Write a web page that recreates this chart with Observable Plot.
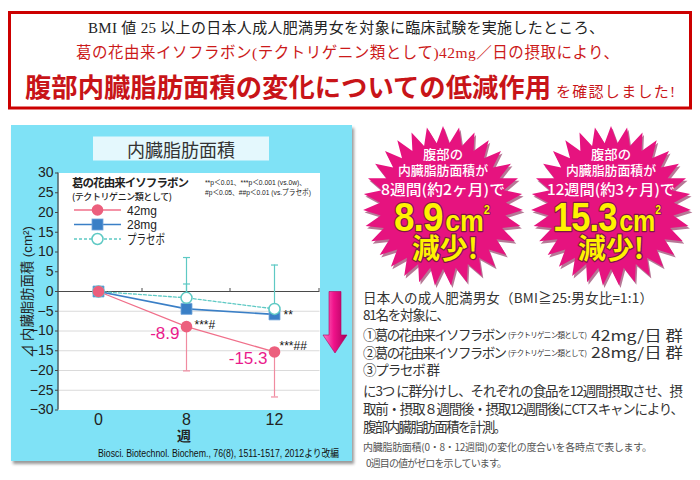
<!DOCTYPE html>
<html><head><meta charset="utf-8">
<script src="https://cdn.jsdelivr.net/npm/d3@7"></script>
<script src="https://cdn.jsdelivr.net/npm/@observablehq/plot@0.6"></script>
<style>
body{margin:0;background:#fff;}
#page{position:relative;width:700px;height:480px;overflow:hidden;background:#fff;}
#under,#over{position:absolute;left:0;top:0;}
#over{pointer-events:none;}
#chart{position:absolute;left:11px;top:164px;}
</style></head>
<body><div id="page">
<svg id="under" width="700" height="480"></svg>
<div id="chart"></div>
<svg id="over" width="700" height="480"></svg>
</div>
<script>
// ---------- data ----------
const weeks = ["0", "8", "12"];
const mg42 = [0, -8.9, -15.3];
const mg28 = [0, -4.4, -5.8];
const placebo = [0, -1.6, -4.4];
const mg42Lower = [null, -20.1, -26.7];
const mg28Upper = [null, 1.9, null];
const placeboUpper = [null, 8.6, 6.7];
const mg42Labels = [null, "-8.9", "-15.3"];
const mg42Sig = [null, "***#", "***##"];
const mg28Sig = [null, null, "**"];
const seriesNames = ["42mg", "28mg", "プラセボ"];
const yTicks = [30, 25, 20, 15, 10, 5, 0, -5, -10, -15, -20, -25, -30];
const yGrid = [-5, -10, -15, -20, -25];

const PINK = "#ec5f7d", PINK_LINE = "#f06f8a", PINK_ERR = "#f08ba0";
const BLUE = "#3a7fc6", TEAL = "#5ec9c4", MAGENTA = "#ea1a8c";

function rows(vals, err, label, sig) {
  return weeks.map((w, i) => ({week: w, value: vals[i], err: err ? err[i] : null,
    label: label ? label[i] : null, sig: sig ? sig[i] : null}));
}
const r42 = rows(mg42, mg42Lower, mg42Labels, mg42Sig);
const r28 = rows(mg28, mg28Upper, null, mg28Sig);
const rPl = rows(placebo, placeboUpper);
const withErr = r => r.filter(d => d.err != null);
const capSymbol = {draw(ctx, size) { const w = Math.sqrt(size / Math.PI); ctx.moveTo(-w, 0); ctx.lineTo(w, 0); }};

const W = 341, H = 282, ML = 47, MR = 32.5, MT = 8.5, MB = 36.5;
const chart = Plot.plot({
  width: W, height: H, marginLeft: ML, marginRight: MR, marginTop: MT, marginBottom: MB,
  style: {background: "transparent", fontFamily: "'Liberation Sans', Arial, 'Noto Sans CJK JP', sans-serif", color: "#222", overflow: "visible"},
  x: {type: "point", domain: weeks, padding: 0.47, align: 0.47},
  y: {domain: [-30, 30]},
  marks: [
    Plot.frame({fill: "white", stroke: "none"}),
    Plot.ruleY(yGrid, {stroke: "#dadada", strokeWidth: 1}),
    Plot.ruleY([0], {stroke: "#4a4a4a", strokeWidth: 1.2}),
    Plot.axisY({ticks: yTicks, tickSize: 3, tickPadding: 2, fontSize: 14, label: null, stroke: "#444"}),
    Plot.axisX({tickSize: 0, tickPadding: 4, fontSize: 16, label: null}),
    Plot.ruleX(withErr(rPl), {x: "week", y1: "value", y2: "err", stroke: TEAL, strokeWidth: 1.2}),
    Plot.ruleX(withErr(r28), {x: "week", y1: "value", y2: "err", stroke: TEAL, strokeWidth: 1.2}),
    Plot.dot(withErr(rPl), {x: "week", y: "err", symbol: capSymbol, r: 3.5, fill: "none", stroke: TEAL, strokeWidth: 1.2}),
    Plot.dot(withErr(r28), {x: "week", y: "err", symbol: capSymbol, r: 3.5, fill: "none", stroke: TEAL, strokeWidth: 1.2}),
    Plot.ruleX(withErr(r42), {x: "week", y1: "value", y2: "err", stroke: PINK_ERR, strokeWidth: 1.2}),
    Plot.dot(withErr(r42), {x: "week", y: "err", symbol: capSymbol, r: 3.5, fill: "none", stroke: PINK_ERR, strokeWidth: 1.2}),
    Plot.line(rPl, {x: "week", y: "value", stroke: TEAL, strokeWidth: 1.3, strokeDasharray: "3,2"}),
    Plot.line(r28, {x: "week", y: "value", stroke: BLUE, strokeWidth: 1.6}),
    Plot.line(r42, {x: "week", y: "value", stroke: PINK_LINE, strokeWidth: 1.3}),
    Plot.dot(r28, {x: "week", y: "value", symbol: "square", r: 6.2, fill: BLUE, stroke: "#74a6db", strokeWidth: 0.8}),
    Plot.dot(rPl, {x: "week", y: "value", r: 5.5, fill: "white", stroke: TEAL, strokeWidth: 1.5}),
    Plot.dot(r42, {x: "week", y: "value", r: 5.8, fill: PINK}),
    Plot.text(r42.filter(d => d.label), {x: "week", y: "value", text: "label", textAnchor: "end", dx: -7, dy: 7, fill: MAGENTA, fontSize: 17}),
    Plot.text(r42.filter((d, i) => i === 1), {x: "week", y: "value", text: "sig", textAnchor: "start", dx: 8, dy: -1, fill: "#111", fontSize: 12}),
    Plot.text(r42.filter((d, i) => i === 2), {x: "week", y: "value", text: "sig", textAnchor: "start", dx: 5, dy: -6, fill: "#111", fontSize: 12}),
    Plot.text(r28.filter(d => d.sig), {x: "week", y: "value", text: "sig", textAnchor: "start", dx: 9, dy: 1, fill: "#111", fontSize: 12})
  ]
});
document.getElementById("chart").appendChild(chart);

// axis line & category boundary ticks from the scales
{
  const xs = chart.scale("x"), ys = chart.scale("y");
  const s = d3.select(chart);
  const y0 = ys.apply(0);
  const px = weeks.map(w => xs.apply(w));
  const bounds = [(px[0] + px[1]) / 2, (px[1] + px[2]) / 2, W - MR - 0.5];
  s.append("g").selectAll("line").data(bounds).join("line")
    .attr("x1", d => d).attr("x2", d => d).attr("y1", y0).attr("y2", y0 - 3)
    .attr("stroke", "#4a4a4a").attr("stroke-width", 1);
  s.append("line").attr("x1", ML).attr("x2", ML).attr("y1", ys.apply(30)).attr("y2", ys.apply(-30))
    .attr("stroke", "#444").attr("stroke-width", 1.2);
}

// ---------- decoration ----------
const NS = "http://www.w3.org/2000/svg";
function el(parent, tag, attrs, text) {
  const e = document.createElementNS(NS, tag);
  for (const k in attrs) e.setAttribute(k, attrs[k]);
  if (text != null) e.textContent = text;
  parent.appendChild(e); return e;
}
const under = document.getElementById("under");
const over = document.getElementById("over");
const defs = el(under, "defs", {});
const f = el(defs, "filter", {id: "sh", x: "-5%", y: "-5%", width: "115%", height: "115%"});
el(f, "feDropShadow", {dx: 2, dy: 3, stdDeviation: 1.6, "flood-color": "#000", "flood-opacity": 0.4});

// red box
el(under, "rect", {x: 9.5, y: 12.5, width: 681, height: 95.5, fill: "none", stroke: "#cc0000", "stroke-width": 3});
// panel
el(under, "rect", {x: 11, y: 125, width: 341, height: 336, fill: "#7fe2f6", filter: "url(#sh)"});
el(under, "rect", {x: 93, y: 136.5, width: 176, height: 24, fill: "#e4f8fd"});

// stars
function starPoints(cx, cy, R, r, n) {
  const pts = [];
  for (let i = 0; i < 2 * n; i++) {
    const a = -Math.PI / 2 + i * Math.PI / n, rad = i % 2 === 0 ? R : r;
    pts.push((cx + rad * Math.cos(a)).toFixed(1) + "," + (cy + rad * Math.sin(a)).toFixed(1));
  }
  return pts.join(" ");
}
const stars = [
  {cx: 443, cy: 206, l3: "8週間(約2ヶ月)で", l3len: 124, num: "8.9", numX: 394, len: 96, genX: 412},
  {cx: 611, cy: 206, l3: "12週間(約3ヶ月)で", l3len: 128, num: "15.3", numX: 553, len: 108, genX: 578}
];
const FJ = "'Noto Sans CJK JP', sans-serif";
const FL = "'Liberation Sans', Arial, 'Noto Sans CJK JP', sans-serif";
for (const s of stars) {
  el(under, "polygon", {points: starPoints(s.cx + 1.5, s.cy + 2.5, 80, 63, 31), fill: "#7a0a40", opacity: 0.55});
  el(under, "polygon", {points: starPoints(s.cx, s.cy, 80, 63, 31), fill: "#e6137f"});
  const t = (y, str, size, len) => el(over, "text", {x: s.cx, y, "text-anchor": "middle", "dominant-baseline": "central",
    fill: "#fff", "font-family": FJ, "font-size": size, "font-weight": 500, textLength: len, lengthAdjust: "spacingAndGlyphs"}, str);
  t(153, "腹部の", 13, 40);
  t(169.5, "内臓脂肪面積が", 13, 90);
  t(188, s.l3, 14.5, s.l3len);
  const y = {fill: "#fff200", stroke: "#7e1646", "stroke-width": 2.4, "paint-order": "stroke", "stroke-linejoin": "round"};
  const big = el(over, "text", {x: s.numX, y: 230.5, "font-family": FL, "font-weight": 700, textLength: s.len, lengthAdjust: "spacingAndGlyphs", ...y});
  el(big, "tspan", {"font-size": 40, "letter-spacing": -1}, s.num);
  el(big, "tspan", {"font-size": 29, dx: 3}, "cm");
  el(big, "tspan", {"font-size": 12, dy: -17, "stroke-width": 1.6}, "2");
  el(over, "text", {x: s.genX, y: 259, "font-family": FJ, "font-size": 28, "font-weight": 700, textLength: 66, lengthAdjust: "spacingAndGlyphs", ...y}, "減少!");
}

// text helper
function tx(x, y, str, o = {}) {
  const a = {x, y, "font-family": o.family || FJ, "font-size": o.size || 13.5, fill: o.fill || "#333",
    "font-weight": o.weight || 400, "text-anchor": o.anchor || "start"};
  if (o.central !== false) a["dominant-baseline"] = "central";
  if (o.len) { a.textLength = o.len; a.lengthAdjust = o.adjust || "spacing"; }
  if (o.transform) a.transform = o.transform;
  return el(over, "text", a, str);
}

// heading box
const FS = "'Liberation Serif', 'DejaVu Serif', 'Noto Sans CJK JP', serif";
tx(88, 28, "BMI 値 25 以上の日本人成人肥満男女を対象に臨床試験を実施したところ、", {family: FS, size: 15, fill: "#222", len: 516});
tx(76, 52, "葛の花由来イソフラボン(テクトリゲニン類として)42mg／日の摂取により、", {family: FS, size: 15.5, fill: "#cc1a1a", len: 543});
tx(25, 97, "腹部内臓脂肪面積の変化についての低減作用", {family: FS, size: 26, weight: 700, fill: "#c81418", len: 526, central: false, adjust: "spacingAndGlyphs"});
tx(556, 97, "を確認しました!", {family: FS, size: 15, fill: "#c81418", len: 119, central: false});

// chart panel texts
tx(181, 148.5, "内臓脂肪面積", {size: 18, fill: "#333", anchor: "middle"});
tx(27, 292, "⊿ 内臓脂肪面積 (cm²)", {family: FL, size: 13.5, fill: "#222", anchor: "middle", transform: "rotate(-90 27 292)", len: 132, adjust: "spacingAndGlyphs"});
tx(184, 434.5, "週", {size: 14, weight: 700, fill: "#222", anchor: "middle"});
tx(98, 453, "Biosci. Biotechnol. Biochem., 76(8), 1511-1517, 2012より改編", {family: FL, size: 10, fill: "#111", len: 241, adjust: "spacingAndGlyphs"});

// legend inside plot
tx(72, 181.5, "葛の花由来イソフラボン", {size: 11.5, weight: 700, fill: "#222", len: 117});
tx(72, 196, "(テクトリゲニン類として)", {size: 9, weight: 500, fill: "#222", len: 100});
const legendStyles = [
  {y: 210, stroke: PINK_LINE, dash: null, kind: "circle"},
  {y: 224.5, stroke: BLUE, dash: null, kind: "square"},
  {y: 239, stroke: TEAL, dash: "3,2", kind: "open"}
];
seriesNames.forEach((name, i) => {
  const L = legendStyles[i];
  el(over, "line", {x1: 74, x2: 121, y1: L.y, y2: L.y, stroke: L.stroke, "stroke-width": 1.4, ...(L.dash ? {"stroke-dasharray": L.dash} : {})});
  if (L.kind === "circle") el(over, "circle", {cx: 97.5, cy: L.y, r: 5.8, fill: PINK});
  if (L.kind === "square") el(over, "rect", {x: 92, y: L.y - 5.5, width: 11, height: 11, fill: BLUE, stroke: "#74a6db", "stroke-width": 0.8});
  if (L.kind === "open") el(over, "circle", {cx: 97.5, cy: L.y, r: 5.5, fill: "#fff", stroke: TEAL, "stroke-width": 1.5});
  tx(127, L.y, name, {family: FL, size: 13.5, fill: "#222", len: i < 2 ? 30 : 38, adjust: "spacingAndGlyphs"});
});
tx(205, 182.5, "**p＜0.01、***p＜0.001 (vs.0w)、", {family: FL, size: 7.5, fill: "#222", len: 101, adjust: "spacingAndGlyphs"});
tx(205, 192.3, "#p＜0.05、##p＜0.01 (vs.プラセボ)", {family: FL, size: 7.5, fill: "#222", len: 106, adjust: "spacingAndGlyphs"});

// arrow
const g = el(defs, "linearGradient", {id: "ag", x1: 0, x2: 1, y1: 0, y2: 0});
el(g, "stop", {offset: "0", "stop-color": "#ff7cc8"});
el(g, "stop", {offset: "0.45", "stop-color": "#f0128a"});
el(g, "stop", {offset: "1", "stop-color": "#a8005a"});
el(over, "polygon", {points: "329,291.5 341,291.5 341,335 347,335 335,353 323,335 329,335", fill: "url(#ag)", stroke: "#b0005c", "stroke-width": 0.6});

// right description
const R = [
  [297, "日本人の成人肥満男女（BMI≧25:男女比=1:1）", 290],
  [313.5, "81名を対象に、", 87],
  [390, "に3つ に群分けし、それぞれの食品を12週間摂取させ、摂", 320],
  [408, "取前・摂取８週間後・摂取12週間後にCTスキャンにより、", 321],
  [426, "腹部内臓脂肪面積を計測。", 144]
];
for (const [y, s, len] of R) tx(363, y, s, {size: 13.5, len});
[[334, "①", "42mg/日 群"], [351.5, "②", "28mg/日 群"]].forEach(([y, n, dose]) => {
  tx(363, y, n + "葛の花由来イソフラボン", {size: 13.5, len: 144});
  tx(508, y + 0.5, "(テクトリゲニン類として)", {size: 7.5, len: 79});
  tx(591, y, dose, {size: 14.5, len: 92, adjust: "spacingAndGlyphs"});
});
tx(363, 368.5, "③プラセボ 群", {size: 13.5, len: 77});
tx(363, 446, "内臓脂肪面積(0・8・12週間)の変化の度合いを各時点で表します。", {size: 10, fill: "#555", len: 289});
tx(366, 462, "0週目の値がゼロを示しています。", {size: 10, fill: "#555", len: 141});
</script>
</body></html>
